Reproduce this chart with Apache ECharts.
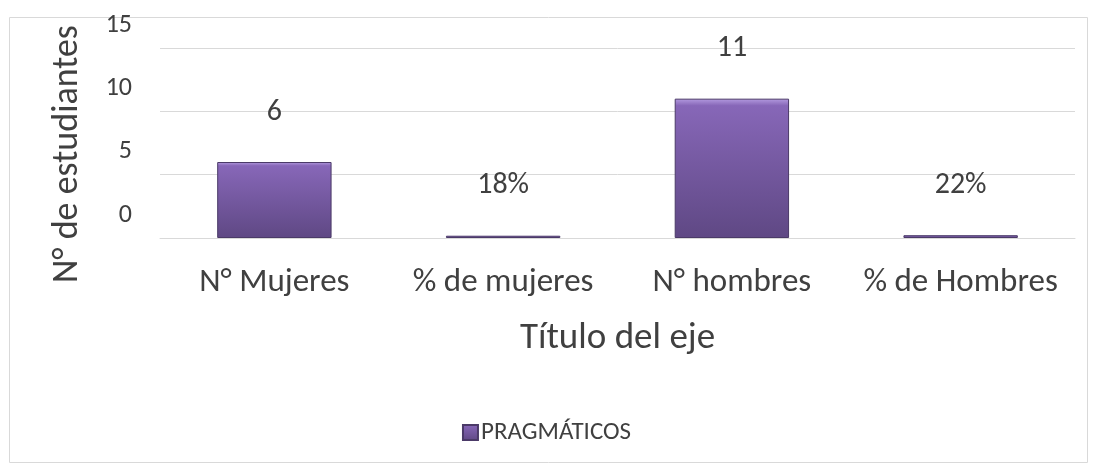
<!DOCTYPE html>
<html>
<head>
<meta charset="utf-8">
<script src="https://cdn.jsdelivr.net/npm/echarts@6/dist/echarts.min.js"></script>
<style>
html,body{margin:0;padding:0;background:#fff;}
#c{width:1093px;height:464px;}
</style>
</head>
<body>
<div id="c"></div>
<script>
const categories = ['N° Mujeres', '% de mujeres', 'N° hombres', '% de Hombres'];
const values = [6, 0.18, 11, 0.22];
const valueLabels = ['6', '18%', '11', '22%'];
const seriesName = 'PRAGMÁTICOS';
const yTicks = [0, 5, 10, 15];
const yTitle = 'N° de estudiantes';
const xTitle = 'Título del eje';

const FONT = '"Carlito", "Liberation Sans Narrow", "Open Sans", sans-serif';
const TXT = '#404040';

const barColor = {
  type: 'linear', x: 0, y: 0, x2: 0, y2: 1,
  colorStops: [
    { offset: 0, color: '#b49be0' },
    { offset: 0.05, color: '#8767b8' },
    { offset: 1, color: '#5f4884' }
  ]
};

const chart = echarts.init(document.getElementById('c'));
chart.setOption({
  animation: false,
  textStyle: { fontFamily: FONT },
  graphic: [{
    type: 'rect', left: 7, top: 15,
    shape: { width: 1078, height: 445 },
    style: { fill: 'none', stroke: '#d9d9d9', lineWidth: 1 },
    silent: true
  }],
  grid: { left: 160, right: 18, top: 48, bottom: 226 },
  legend: {
    bottom: 14, left: 'center',
    itemWidth: 15, itemHeight: 15, itemGap: 4,
    icon: 'rect',
    textStyle: { fontFamily: FONT, fontSize: 25, color: TXT, padding: [0, 0, 0, -2] },
    data: [seriesName]
  },
  xAxis: {
    type: 'category',
    data: categories,
    axisLine: { lineStyle: { color: '#d9d9d9', width: 1 } },
    axisTick: { show: false },
    axisLabel: { color: TXT, fontSize: 33, margin: 28, interval: 0, hideOverlap: false, fontFamily: FONT },
    name: xTitle,
    nameLocation: 'middle',
    nameGap: 82,
    nameTextStyle: { color: TXT, fontSize: 37, fontFamily: FONT }
  },
  yAxis: {
    type: 'value',
    min: 0, max: 15, interval: 5,
    axisLine: { show: false },
    axisTick: { show: false },
    splitLine: { lineStyle: { color: '#d9d9d9', width: 1 } },
    axisLabel: { color: TXT, fontSize: 26, margin: 28, verticalAlign: 'bottom', lineHeight: 46, fontFamily: FONT,
      formatter: v => yTicks.includes(v) ? String(v) : '' },
    name: yTitle,
    nameLocation: 'middle',
    nameGap: 74,
    nameTextStyle: { color: TXT, fontSize: 36, fontFamily: FONT, padding: [0, 22, 0, 0] }
  },
  series: [{
    name: seriesName,
    type: 'bar',
    data: values,
    barWidth: '50%',
    itemStyle: { color: barColor, borderColor: '#4b3a68', borderWidth: 1 },
    label: {
      show: true, position: 'top', distance: 35,
      color: TXT, fontSize: 30, fontFamily: FONT,
      formatter: p => valueLabels[p.dataIndex]
    }
  }]
});
</script>
</body>
</html>
